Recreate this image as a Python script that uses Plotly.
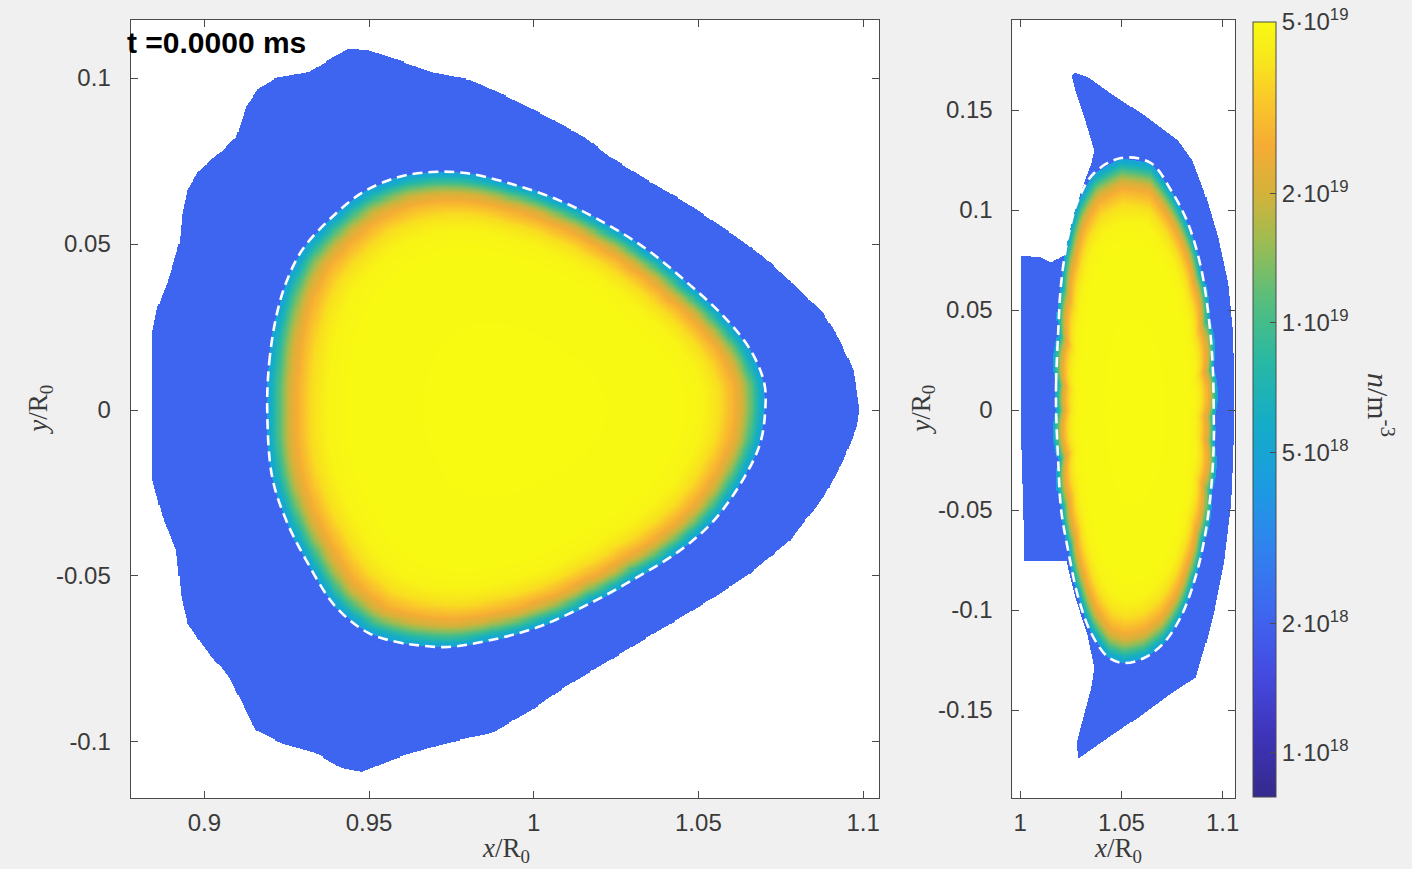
import numpy as np
import plotly.graph_objects as go

# ---------------- data (units of R0) ----------------
# Left panel: outer edge of the blue (scrape-off) region
left_outer_x = [0.9438, 0.9499, 0.9590, 0.9690, 0.9811, 0.9923, 1.0044, 1.0155, 1.0234, 1.0346,
                1.0467, 1.0588, 1.0700, 1.0800, 1.0881, 1.0930, 1.0972, 1.0990, 1.0981, 1.0942,
                1.0881, 1.0779, 1.0658, 1.0549, 1.0397, 1.0246, 1.0095, 0.9992, 0.9871, 0.9771,
                0.9690, 0.9590, 0.9478, 0.9417, 0.9339, 0.9236, 0.9157, 0.9115, 0.9076, 0.9006,
                0.8949, 0.8930, 0.8915, 0.8873, 0.8840, 0.8843, 0.8840, 0.8843, 0.8858, 0.8894,
                0.8924, 0.8933, 0.8949, 0.8985, 0.9045, 0.9097, 0.9127, 0.9166, 0.9218, 0.9318,
                0.9378]
left_outer_y = [0.1090, 0.1084, 0.1054, 0.1018, 0.0994, 0.0943, 0.0883, 0.0822, 0.0762, 0.0693,
                0.0623, 0.0542, 0.0461, 0.0370, 0.0292, 0.0211, 0.0120, 0.0000, -0.0051, -0.0151,
                -0.0262, -0.0392, -0.0491, -0.0563, -0.0654, -0.0744, -0.0834, -0.0904, -0.0973, -0.0994,
                -0.1015, -0.1045, -0.1090, -0.1078, -0.1033, -0.1003, -0.0964, -0.0883, -0.0804, -0.0723,
                -0.0642, -0.0563, -0.0422, -0.0322, -0.0202, 0.0000, 0.0142, 0.0241, 0.0310, 0.0401,
                0.0503, 0.0593, 0.0663, 0.0723, 0.0774, 0.0822, 0.0913, 0.0970, 0.1000, 0.1018,
                0.1054]
# Left panel: separatrix (dashed line)
left_sep_x = [0.9191, 0.9197, 0.9218, 0.9248, 0.9297, 0.9378, 0.9478, 0.9590, 0.9690, 0.9792,
              0.9923, 1.0074, 1.0216, 1.0346, 1.0467, 1.0579, 1.0658, 1.0700, 1.0703, 1.0688,
              1.0640, 1.0549, 1.0446, 1.0316, 1.0174, 1.0013, 0.9871, 0.9741, 0.9641, 0.9599,
              0.9499, 0.9399, 0.9309, 0.9248, 0.9206]
left_sep_y = [0.0000, 0.0142, 0.0280, 0.0383, 0.0482, 0.0572, 0.0654, 0.0702, 0.0717, 0.0714,
              0.0684, 0.0633, 0.0563, 0.0482, 0.0383, 0.0280, 0.0181, 0.0081, 0.0000, -0.0099,
              -0.0202, -0.0331, -0.0422, -0.0503, -0.0581, -0.0654, -0.0693, -0.0714, -0.0708, -0.0702,
              -0.0672, -0.0593, -0.0452, -0.0331, -0.0202]

# Right panel: outer edge of the blue region
right_outer_x = [1.0266, 1.0335, 1.0448, 1.0611, 1.0778, 1.0850, 1.0906, 1.0975, 1.1025, 1.1049,
                 1.1054, 1.1054, 1.1049, 1.1039, 1.1005, 1.0956, 1.0906, 1.0867, 1.0744, 1.0581,
                 1.0414, 1.0286, 1.0276, 1.0310, 1.0350, 1.0365, 1.0330, 1.0270, 1.0225, 1.0020,
                 1.0015, 1.0005, 1.0005, 1.0005, 1.0005, 1.0103, 1.0153, 1.0212, 1.0218, 1.0251,
                 1.0300, 1.0350, 1.0365, 1.0315, 1.0266, 1.0251]
right_outer_y = [0.1690, 0.1665, 0.1585, 0.1475, 0.1350, 0.1250, 0.1100, 0.0865, 0.0635, 0.0385,
                 0.0135, -0.0050, -0.0250, -0.0465, -0.0750, -0.1000, -0.1200, -0.1335, -0.1415, -0.1535,
                 -0.1650, -0.1740, -0.1665, -0.1535, -0.1385, -0.1285, -0.1120, -0.0935, -0.0750, -0.0750,
                 -0.0500, -0.0165, 0.0000, 0.0465, 0.0775, 0.0765, 0.0740, 0.0775, 0.0750, 0.0935,
                 0.1100, 0.1235, 0.1300, 0.1465, 0.1615, 0.1675]
# Right panel: separatrix (dashed line)
right_sep_x = [1.0177, 1.0177, 1.0187, 1.0202, 1.0236, 1.0286, 1.0365, 1.0498, 1.0645, 1.0744,
               1.0828, 1.0892, 1.0931, 1.0951, 1.0956, 1.0956, 1.0941, 1.0906, 1.0857, 1.0793,
               1.0709, 1.0611, 1.0512, 1.0433, 1.0350, 1.0286, 1.0236, 1.0202, 1.0187]
right_sep_y = [0.0000, 0.0135, 0.0385, 0.0635, 0.0865, 0.1050, 0.1185, 0.1260, 0.1235, 0.1100,
               0.0935, 0.0715, 0.0465, 0.0215, -0.0035, -0.0165, -0.0415, -0.0665, -0.0865, -0.1035,
               -0.1165, -0.1240, -0.1265, -0.1235, -0.1115, -0.0935, -0.0700, -0.0500, -0.0250]

# Density profile inside the separatrix (normalised radius -> n in m^-3)
profile_rho = [0.00, 0.65, 0.75, 0.82, 0.87, 0.91, 0.94, 0.96, 0.98, 1.00]
profile_n = [5.0e19, 4.95e19, 4.7e19, 3.8e19, 2.8e19, 2.0e19, 1.3e19, 9.0e18, 6.0e18, 4.5e18]
sol_density = 2.1e18          # uniform value in the blue region

# Colour bar
cbar_min, cbar_max = 7.9e17, 5.0e19
cbar_vals = [1e18, 2e18, 5e18, 1e19, 2e19, 5e19]
cbar_text = ["1·10<sup>18</sup>", "2·10<sup>18</sup>", "5·10<sup>18</sup>",
             "1·10<sup>19</sup>", "2·10<sup>19</sup>", "5·10<sup>19</sup>"]
parula_stops = [(0.00, "rgb(53,42,140)"), (0.08, "rgb(62,52,185)"), (0.16, "rgb(68,75,225)"),
                (0.24, "rgb(62,103,240)"), (0.32, "rgb(48,130,238)"), (0.40, "rgb(28,155,225)"),
                (0.48, "rgb(20,172,200)"), (0.56, "rgb(40,184,165)"), (0.64, "rgb(85,190,125)"),
                (0.72, "rgb(160,188,80)"), (0.78, "rgb(212,178,58)"), (0.84, "rgb(245,172,52)"),
                (0.90, "rgb(250,200,42)"), (0.95, "rgb(248,230,28)"), (1.00, "rgb(248,250,18)")]

# Axis ticks / ranges
left_xticks = [0.9, 0.95, 1.0, 1.05, 1.1]
left_xtext = ["0.9", "0.95", "1", "1.05", "1.1"]
left_yticks = [-0.1, -0.05, 0.0, 0.05, 0.1]
left_ytext = ["-0.1", "-0.05", "0", "0.05", "0.1"]
right_xticks = [1.0, 1.05, 1.1]
right_xtext = ["1", "1.05", "1.1"]
right_yticks = [-0.15, -0.1, -0.05, 0.0, 0.05, 0.1, 0.15]
right_ytext = ["-0.15", "-0.1", "-0.05", "0", "0.05", "0.1", "0.15"]
left_xrange, left_yrange = [0.8776, 1.1048], [-0.1169, 0.1175]
right_xrange, right_yrange = [0.9961, 1.1059], [-0.194, 0.195]

assert len(left_outer_x) == len(left_outer_y)
assert len(right_outer_x) == len(right_outer_y)
assert len(left_sep_x) == len(left_sep_y)
assert len(right_sep_x) == len(right_sep_y)


# ---------------- build the density maps ----------------
def inside_polygon(X, Y, px, py):
    res = np.zeros(X.shape, dtype=bool)
    n = len(px)
    j = n - 1
    for i in range(n):
        xi, yi, xj, yj = px[i], py[i], px[j], py[j]
        if yi != yj:
            cond = ((yi > Y) != (yj > Y)) & (X < (xj - xi) * (Y - yi) / (yj - yi) + xi)
            res ^= cond
        j = i
    return res


def normalised_radius(X, Y, sx, sy):
    sx, sy = np.asarray(sx), np.asarray(sy)
    xc = 0.5 * (sx.max() + sx.min())
    yc = 0.5 * (sy.max() + sy.min())
    th = np.arctan2(sy - yc, sx - xc)
    r = np.hypot(sx - xc, sy - yc)
    order = np.argsort(th)
    T = np.arctan2(Y - yc, X - xc)
    rb = np.interp(T, th[order], r[order], period=2 * np.pi)
    return np.hypot(X - xc, Y - yc) / rb


def density_map(xr, yr, ox, oy, sx, sy, step):
    xs = np.arange(xr[0], xr[1], step)
    ys = np.arange(yr[0], yr[1], step)
    X, Y = np.meshgrid(xs, ys)
    rho = normalised_radius(X, Y, sx, sy)
    core = np.interp(rho, profile_rho, np.log10(profile_n))
    z = np.full(X.shape, np.nan)
    z[inside_polygon(X, Y, ox, oy)] = np.log10(sol_density)
    z[rho <= 1.0] = core[rho <= 1.0]
    z = np.round(z, 3)
    zl = [[None if np.isnan(v) else float(v) for v in row] for row in z]
    return np.round(xs, 5).tolist(), np.round(ys, 5).tolist(), zl


lx, ly, lz = density_map(left_xrange, left_yrange, left_outer_x, left_outer_y,
                         left_sep_x, left_sep_y, 0.00032)
rx, ry, rz = density_map(right_xrange, right_yrange, right_outer_x, right_outer_y,
                         right_sep_x, right_sep_y, 0.0005)

# ---------------- figure ----------------
W, H = 1412, 869
fig = go.Figure()

fig.add_trace(go.Heatmap(x=lx, y=ly, z=lz, coloraxis="coloraxis", xaxis="x", yaxis="y",
                         hoverinfo="skip", zsmooth=False))
fig.add_trace(go.Heatmap(x=rx, y=ry, z=rz, coloraxis="coloraxis", xaxis="x2", yaxis="y2",
                         hoverinfo="skip", zsmooth=False))

dash_line = dict(color="white", width=2.6, dash="10px,6px", shape="spline", smoothing=1.0)
fig.add_trace(go.Scatter(x=left_sep_x + left_sep_x[:1], y=left_sep_y + left_sep_y[:1],
                         mode="lines", line=dash_line, xaxis="x", yaxis="y",
                         hoverinfo="skip", showlegend=False))
fig.add_trace(go.Scatter(x=right_sep_x + right_sep_x[:1], y=right_sep_y + right_sep_y[:1],
                         mode="lines", line=dash_line, xaxis="x2", yaxis="y2",
                         hoverinfo="skip", showlegend=False))

tick_font = dict(family="Liberation Sans, Arial, sans-serif", size=24, color="#3a3a3a")
axis_common = dict(showline=True, linecolor="#4a4a4a", linewidth=1, mirror="ticks",
                   ticks="inside", ticklen=7, tickcolor="#4a4a4a", tickfont=tick_font,
                   showgrid=False, zeroline=False, fixedrange=True)

ydom = [1 - 798 / H, 1 - 20 / H]
fig.update_layout(
    width=W, height=H,
    margin=dict(l=0, r=0, t=0, b=0),
    paper_bgcolor="#f0f0f0", plot_bgcolor="white",
    showlegend=False,
    xaxis=dict(domain=[131 / W, 882 / W], range=left_xrange, tickmode="array",
               tickvals=left_xticks, ticktext=left_xtext, anchor="y",
               ticklabelstandoff=3, **axis_common),
    yaxis=dict(domain=ydom, range=left_yrange, tickmode="array",
               tickvals=left_yticks, ticktext=left_ytext, anchor="x",
               ticklabelstandoff=14, **axis_common),
    xaxis2=dict(domain=[1016 / W, 1239 / W], range=right_xrange, tickmode="array",
                tickvals=right_xticks, ticktext=right_xtext, anchor="y2",
                ticklabelstandoff=3, **axis_common),
    yaxis2=dict(domain=ydom, range=right_yrange, tickmode="array",
                tickvals=right_yticks, ticktext=right_ytext, anchor="x2",
                ticklabelstandoff=14, **axis_common),
    coloraxis=dict(
        colorscale=[[s, c] for s, c in parula_stops],
        cmin=float(np.log10(cbar_min)), cmax=float(np.log10(cbar_max)),
        colorbar=dict(
            x=1257 / W, xanchor="left", xpad=0,
            y=1 - 409.5 / H, yanchor="middle", ypad=0,
            len=775, lenmode="pixels", thickness=23, thicknessmode="pixels",
            outlinecolor="#4a4a4a", outlinewidth=1,
            tickmode="array", tickvals=[float(np.log10(v)) for v in cbar_vals],
            ticktext=cbar_text, ticks="inside", ticklen=6, tickcolor="#4a4a4a",
            tickfont=dict(family="Liberation Sans, Arial, sans-serif", size=24, color="#3a3a3a"),
        ),
    ),
)

title_font = dict(family="Liberation Serif, DejaVu Serif, serif", size=27, color="#3a3a3a")
annots = [
    dict(text="<b>t =0.0000 ms</b>", x=125 / W, y=1 - 43 / H, xanchor="left", yanchor="middle",
         font=dict(family="Liberation Sans, Arial, sans-serif", size=30, color="black")),
    dict(text="<i>x</i>/R<sub>0</sub>", x=508 / W, y=1 - 850 / H, xanchor="center", yanchor="middle",
         font=title_font),
    dict(text="<i>x</i>/R<sub>0</sub>", x=1122 / W, y=1 - 850 / H, xanchor="center", yanchor="middle",
         font=title_font),
    dict(text="<i>y</i>/R<sub>0</sub>", x=40 / W, y=1 - 410 / H, xanchor="center", yanchor="middle",
         textangle=-90, font=title_font),
    dict(text="<i>y</i>/R<sub>0</sub>", x=926 / W, y=1 - 410 / H, xanchor="center", yanchor="middle",
         textangle=-90, font=title_font),
    dict(text="<i>n</i>/m<sup>-3</sup>", x=1386 / W, y=1 - 405 / H, xanchor="center", yanchor="middle",
         textangle=90, font=dict(title_font, size=30)),
]
for a in annots:
    a.update(xref="paper", yref="paper", showarrow=False)
fig.update_layout(annotations=annots)

fig.write_html("out.html")
